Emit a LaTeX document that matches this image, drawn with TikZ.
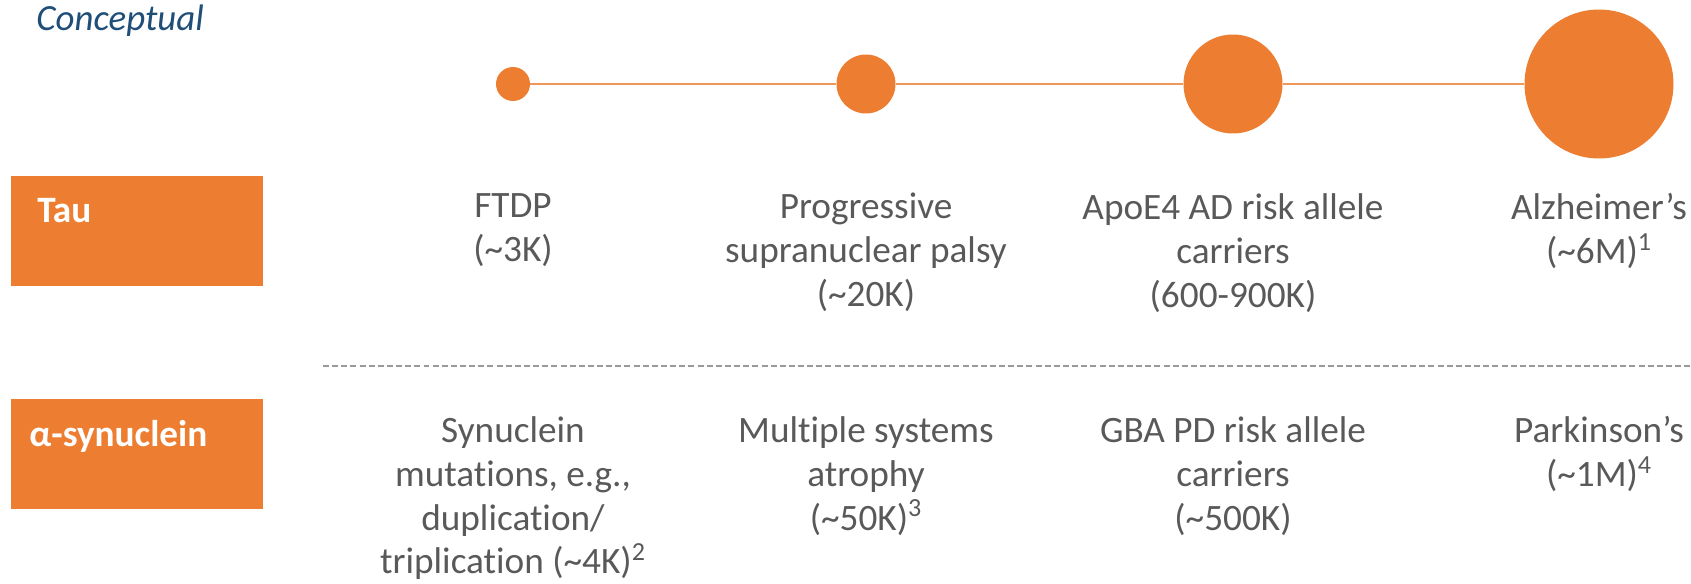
\documentclass[tikz,border=0pt]{standalone}
\usepackage{fontspec}
\setmainfont{Carlito}[Ligatures=NoCommon]
\usetikzlibrary{positioning}

\definecolor{boxorange}{HTML}{ED7D31}
\definecolor{textgray}{HTML}{595959}
\definecolor{headblue}{HTML}{1F4E79}

\tikzset{
  dot/.style={circle, fill=boxorange, inner sep=0pt, minimum size=#1},
  link/.style={draw=boxorange!80, line width=1.1pt},
  rowbox/.style={fill=boxorange, inner sep=0pt, minimum width=5.04cm, minimum height=2.2cm},
  rowlabel/.style={anchor=base west, inner sep=0pt, text=white, font=\fontsize{21.2}{25}\selectfont\bfseries},
  %% \strut fixes the height of the first line, so north sits 17.5pt over its baseline
  cell/.style={anchor=north, align=center, inner sep=0pt, text=textgray, font=\fontsize{21.2}{25}\selectfont, execute at begin node=\strut},
  divider/.style={draw=gray!80, line width=0.6pt, dash pattern=on 3.4pt off 1.8pt},
}

\begin{document}
\begin{tikzpicture}[x=0.02cm, y=-0.02cm]
\useasboundingbox (0,0) rectangle (1691,584);
\node[anchor=base west, inner sep=0pt, text=headblue, font=\fontsize{21}{25}\selectfont\itshape] (title) at (36,31) {Conceptual};

%% circles grow with the number of patients
\node[dot=0.68cm] (c1) at (513,84) {};
\node[dot=1.18cm] (c2) at (866,84) {};
\node[dot=1.98cm] (c3) at (1233,84) {};
\node[dot=2.98cm] (c4) at (1599,84) {};
\draw[link] (c1) -- (c2) -- (c3) -- (c4);

%% row headers
\node[rowbox, anchor=north west] (taubox) at (11,176) {};
\node[rowbox, anchor=north west] (synbox) at (11,399) {};
\node[rowlabel] (taulbl) at (37,223) {Tau};
\node[rowlabel] (synlbl) at (29,446) {α-synuclein};

%% top of the first text line in each row
\coordinate (taurow) at (0,193);
\coordinate (synrow) at (0,416);

%% tau row
\node[cell] (ftdp) at (c1 |- taurow) {FTDP\\(\textasciitilde 3K)};
\node[cell] (psp) at (c2 |- taurow) {Progressive\\supranuclear palsy\\(\textasciitilde 20K)};
\node[cell] (apoe) at (c3 |- taurow) {ApoE4 AD risk allele\\carriers\\(600-900K)};
\node[cell] (ad) at (c4 |- taurow) {Alzheimer’s\\(\textasciitilde 6M)\textsuperscript{1}};

\coordinate (dashstart) at (323,366);
\coordinate (dashend) at (1691,366);
\draw[divider] (dashstart) -- (dashend);

%% synuclein row
\node[cell] (snca) at (c1 |- synrow) {Synuclein\\mutations, e.g.,\\duplication/\\triplication (\textasciitilde 4K)\textsuperscript{2}};
\node[cell] (msa) at (c2 |- synrow) {Multiple systems\\atrophy\\(\textasciitilde 50K)\textsuperscript{3}};
\node[cell] (gba) at (c3 |- synrow) {GBA PD risk allele\\carriers\\(\textasciitilde 500K)};
\node[cell] (pd) at (c4 |- synrow) {Parkinson’s\\(\textasciitilde 1M)\textsuperscript{4}};
\end{tikzpicture}
\end{document}
